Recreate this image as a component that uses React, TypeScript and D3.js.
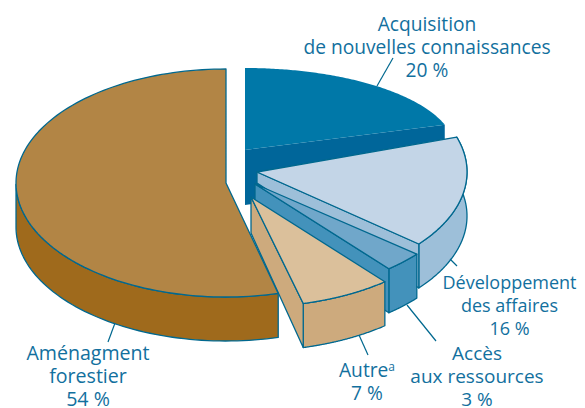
import React from "react";
import * as d3 from "d3";

const categories = ["Acquisition de nouvelles connaissances", "Développement des affaires", "Accès aux ressources", "Autre", "Aménagment forestier"];
const shares = [20, 16, 3, 7, 54];
const topColors = ["#0078a8", "#c3d5e7", "#70a7ca", "#dbc09b", "#b28545"];
const sideColors = ["#00669a", "#9dbfd9", "#4392bb", "#cdaa7d", "#9f6a1c"];
const ink = "#00688f";
const textInk = "#12709e";

const geom = [
  { cx: 245, cy: 150, ry: 82, depth: 55, cutDepth: 55, stroke: false },
  { cx: 257, cy: 172, ry: 113, depth: 44, cutDepth: 11, stroke: true },
  { cx: 255, cy: 184, ry: 110, depth: 44, cutDepth: 44, stroke: true },
  { cx: 251, cy: 197, ry: 110, depth: 44, cutDepth: 36, stroke: true },
  { cx: 226, cy: 183, ry: 114, depth: 44, cutDepth: 44, stroke: true },
];
const RX = 210;

const labels = [
  { lines: ["Acquisition", "de nouvelles connaissances", "20 %"], x: 427, y: 31, size: 19.2 },
  { lines: ["Développement", "des affaires", "16 %"], x: 509.5, y: 289, size: 18 },
  { lines: ["Accès", "aux ressources", "3 %"], x: 477, y: 360, size: 19 },
  { lines: ["Autre", "7 %"], x: 367, y: 377, size: 19.2 },
  { lines: ["Aménagment", "forestier", "54 %"], x: 88, y: 360, size: 19.6 },
];
const leaders: [number, number, number, number][] = [
  [377, 86, 393, 58],
  [450, 259, 457, 266],
  [407, 305, 436, 341],
  [359, 335, 368, 355],
  [115, 323, 108, 342],
];

const pieArcs = d3.pie<number>().sort(null).value((d) => d)(shares);
const line = d3.line();

export default function App() {
  return (
    <svg width={585} height={408} style={{ position: "absolute", left: 0, top: 0 }} fontFamily="'Open Sans'">
      <rect width={585} height={408} fill="#fff" />
      {pieArcs.map((a, i) => {
        const g = geom[i];
        const pt = (t: number, dy = 0): [number, number] => [g.cx + RX * Math.sin(t), g.cy - g.ry * Math.cos(t) + dy];
        const ts = d3.range(0, 121).map((k) => a.startAngle + ((a.endAngle - a.startAngle) * k) / 120);
        const rim = ts.map((t) => pt(t));
        const top = line([[g.cx, g.cy], ...rim])! + "Z";
        const visible = ts.filter((t) => Math.cos(t) <= 0 || i === 1);
        const lower = visible.map((t) => pt(t, g.depth));
        const upper = visible.map((t) => pt(t));
        const side = line([...upper, ...lower.slice().reverse()])! + "Z";
        const strokeProps = g.stroke
          ? { stroke: ink, strokeWidth: 1.3, strokeLinejoin: "round" as const }
          : { stroke: "none" };
        const cutAngle = i === 4 ? a.startAngle : a.endAngle;
        const cutFace = line([[g.cx, g.cy], pt(cutAngle), pt(cutAngle, g.depth), [g.cx, g.cy + g.cutDepth]])! + "Z";
        return (
          <g key={categories[i]}>
            {i === 0 ? (
              <path d={cutFace} fill={sideColors[i]} />
            ) : (
              <>
                <path d={side} fill={sideColors[i]} {...strokeProps} />
                {i !== 4 && <path d={cutFace} fill={sideColors[i]} {...strokeProps} />}
              </>
            )}
            <path d={top} fill={topColors[i]} {...strokeProps} />
          </g>
        );
      })}
      {leaders.map((l, i) => (
        <line key={i} x1={l[0]} y1={l[1]} x2={l[2]} y2={l[3]} stroke={ink} strokeWidth={1.2} />
      ))}
      {labels.map((lab, i) => (
        <text key={i} textAnchor="middle" fontSize={lab.size} fill={textInk}>
          {lab.lines.map((s, k) => (
            <tspan key={k} x={lab.x} y={lab.y + k * 23}>
              {s}
              {s === "Autre" && <tspan fontSize={12} dy={-6}>a</tspan>}
            </tspan>
          ))}
        </text>
      ))}
    </svg>
  );
}
